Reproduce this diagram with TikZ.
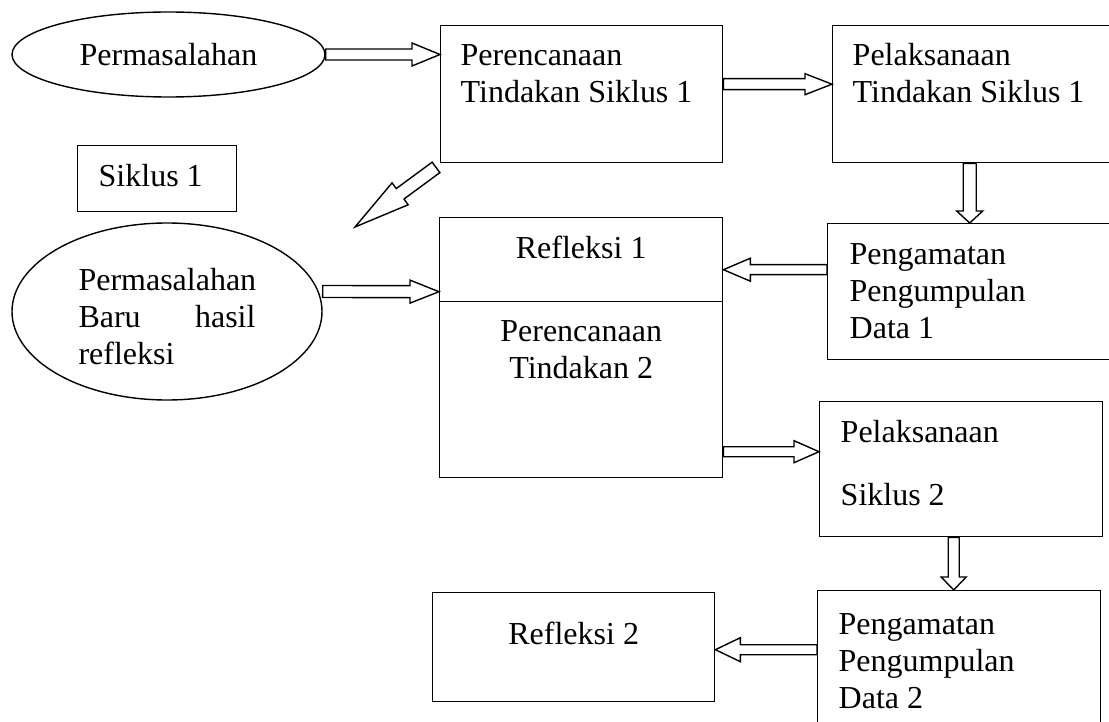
\documentclass[tikz,border=0pt]{standalone}
\usepackage{fontspec}
\setmainfont{Liberation Serif}
\usetikzlibrary{positioning, calc, shapes.geometric}

\begin{document}
\begin{tikzpicture}[x=1pt, y=-1pt, line width=1.4pt, line join=miter,
                    font=\fontsize{32}{36.8}\selectfont]
  \tikzset{
    box/.style={draw, rectangle, inner sep=0pt, anchor=north west},
    oval/.style={draw, ellipse, inner sep=0pt},
    txt/.style={inner sep=0pt, align=left},
    hollow/.style n args={3}{to path={
      let \p1=(\tikztostart), \p2=(\tikztotarget),
          \n1={atan2(\y2-\y1,\x2-\x1)}, \n2={veclen(\x2-\x1,\y2-\y1)} in
      ([shift={(\p1)}, rotate=\n1] 0, #1)
      -- ([shift={(\p1)}, rotate=\n1] {\n2-#3}, #1)
      -- ([shift={(\p1)}, rotate=\n1] {\n2-#3}, #2)
      -- ([shift={(\p1)}, rotate=\n1] \n2, 0)
      -- ([shift={(\p1)}, rotate=\n1] {\n2-#3}, -#2)
      -- ([shift={(\p1)}, rotate=\n1] {\n2-#3}, -#1)
      -- ([shift={(\p1)}, rotate=\n1] 0, -#1) -- cycle}}
  }

  \useasboundingbox (0,0) rectangle (1109,722);
  \clip (0,0) rectangle (1109,722);

  \node[oval, minimum width=313pt, minimum height=85pt] (perm1) at (168.5,54.5) {Permasalahan};
  \node[box, minimum width=159pt, minimum height=66pt] (siklus1) at (77,145) {};
  \node[oval, minimum width=310pt, minimum height=177pt] (perm2) at (167,311.5) {};

  \node[box, minimum width=282pt, minimum height=137pt] (rencana1)  at (440,25)  {};
  \node[box, minimum width=300pt, minimum height=137pt] (laksana1)  at (832,25)  {};
  \node[box, minimum width=283pt, minimum height=84pt]  (refleksi1) at (439,217) {};
  \node[box, minimum width=283pt, minimum height=176pt] (rencana2)  at (439,301) {};
  \node[box, minimum width=300pt, minimum height=136pt] (amati1)    at (827,223) {};
  \node[box, minimum width=283pt, minimum height=135pt] (laksana2)  at (819,401) {};
  \node[box, minimum width=283pt, minimum height=160pt] (amati2)    at (817,590) {};
  \node[box, minimum width=282pt, minimum height=109pt] (refleksi2) at (432,592) {};

  % texts inside the boxes
  \node[txt, below right=19pt and 21pt of siklus1.north west] {Siklus 1};
  \node[txt, text width=177pt, yshift=-5pt] at (perm2.center) {Permasalahan\\Baru\hfill hasil\\refleksi};
  \node[txt, below right=19pt and 20pt of rencana1.north west] {Perencanaan\\Tindakan Siklus 1};
  \node[txt, below right=18pt and 20pt of laksana1.north west] {Pelaksanaan\\Tindakan Siklus 1};
  \node[txt, align=center, below=18pt of refleksi1.north] {Refleksi 1};
  \node[txt, align=center, below=19pt of rencana2.north] {Perencanaan\\Tindakan 2};
  \node[txt, below right=20pt and 22pt of amati1.north west] {Pengamatan\\Pengumpulan\\Data 1};
  \node[txt, below right=19pt and 21pt of laksana2.north west] {Pelaksanaan\\[26pt]Siklus 2};
  \node[txt, below right=23pt and 21pt of amati2.north west] {Pengamatan\\Pengumpulan\\Data 2};
  \node[txt, align=center, below=29pt of refleksi2.north] {Refleksi 2};

  \coordinate (diagtip) at (355,227);

  \draw (perm1.east) to[hollow={5.5}{11.5}{28}] (rencana1.west |- perm1.east);
  \draw ([yshift=10pt]rencana1.east) to[hollow={5.5}{10.5}{27}] ([yshift=10pt]laksana1.west);
  \draw ([shift={(-4,4)}]rencana1.south west) to[hollow={6.5}{13.6}{56}] (diagtip);
  \draw ([yshift=20pt]perm2.east) to[hollow={6}{11.5}{29}] ([yshift=-32pt]refleksi1.west);
  \draw ([xshift=-13pt]laksana1.south) to[hollow={6.5}{13}{12}] ([xshift=-8pt]amati1.north);
  \draw ([yshift=22pt]amati1.west) to[hollow={5}{11.5}{27}] ([yshift=-10pt]refleksi1.east);
  \draw ([yshift=-62pt]rencana2.east) to[hollow={5}{11}{25}] ([yshift=17.5pt]laksana2.west);
  \draw ([xshift=-7.5pt]laksana2.south) to[hollow={5.5}{12.5}{13}] ([xshift=-5.5pt]amati2.north);
  \draw ([yshift=21pt]amati2.west) to[hollow={5}{12}{25}] ([yshift=-2.5pt]refleksi2.east);
\end{tikzpicture}
\end{document}
